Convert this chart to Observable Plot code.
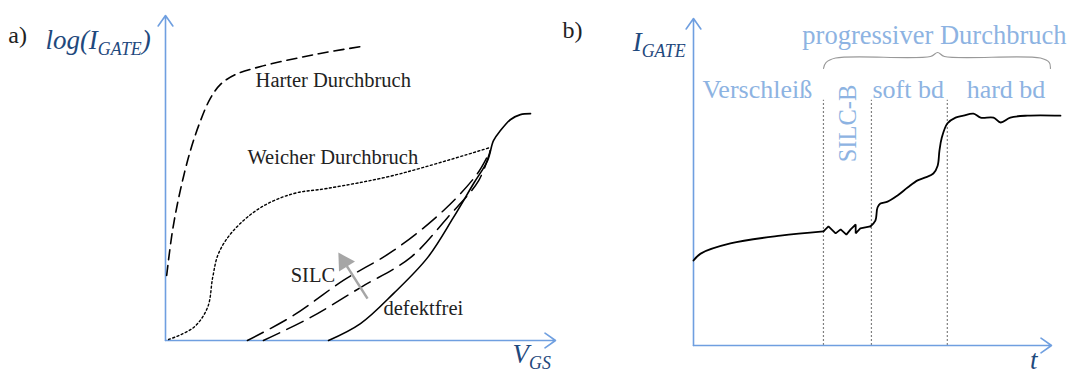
<!DOCTYPE html>
<html><head><meta charset="utf-8">
<script src="https://cdn.jsdelivr.net/npm/d3@7"></script>
<script src="https://cdn.jsdelivr.net/npm/@observablehq/plot@0.6"></script>
<style>
html,body{margin:0;padding:0;background:#fff;}
#wrap{position:relative;width:1073px;height:376px;overflow:hidden;background:#fff;}
#wrap svg{position:absolute;top:0;overflow:visible;}
</style></head><body><div id="wrap"></div>
<script>
// ---------- Panel a) : V_GS (0..100) vs log(I_GATE) (0..100), schematic units ----------
const hardBreakdown = [[0.3,20.0],[1.8,33.8],[3.8,46.2],[6.4,58.5],[9.0,67.7],[11.5,74.5],[14.1,78.8],[17.9,81.8],[24.4,84.3],[34.6,87.1],[42.3,88.9],[50.5,90.5]];
const softBreakdown = [[0.8,0.3],[7.2,4.0],[10.8,10.2],[12.1,19.4],[13.6,26.8],[17.4,33.8],[24.4,40.9],[32.8,45.2],[41.5,46.8],[58.5,50.8],[83.3,59.4]];
const defectFree = [[41.8,0],[50.0,5.2],[58.5,14.5],[67.2,25.5],[73.8,37.8],[79.0,48.3],[82.6,55.4],[84.1,61.5],[85.9,64.6],[88.5,68.0],[91.0,69.5],[93.6,69.8]];
const silc1 = [[21.0,0],[32.8,7.7],[45.6,18.5],[58.5,27.7],[71.3,40.0],[80.0,51.4],[83.3,58.5]];
const silc2 = [[25.1,0],[37.2,7.1],[50.0,16.3],[62.8,25.5],[72.3,37.8],[80.3,49.2],[83.3,58.5]];
const silcShaft = [{x1:51.8,y1:12.9,x2:46.5,y2:22.9}];
const silcHead = [{x:45.8,y:24.2,angle:-32}];
const labelsA = [
  {x:23.1,y:79.9,text:"Harter Durchbruch"},
  {x:21.0,y:56.2,text:"Weicher Durchbruch"},
  {x:32.1,y:19.9,text:"SILC"},
  {x:55.9,y:10.0,text:"defektfrei"}
];
const panelTagA = [{x:-40.3,y:93.8,text:"a)"}];
const axisTitlesA = [{x:-30.8,y:92.3,text:"log(I_{GATE})"},{x:89.0,y:-4.3,text:"V_{GS}"}];

// ---------- Panel b) : t (0..100) vs I_GATE (0..100), schematic units ----------
const wearPhase = [[0,26.0],[2.0,28.1],[10.3,31.2],[24.3,33.6],[36.3,34.9]];
const silcPhase = [[36.3,34.9],[37.7,36.4],[39.7,34.3],[41.1,35.5],[42.7,33.9],[43.9,35.5],[45.3,37.0],[45.3,34.3],[46.6,35.8],[48.0,36.1],[49.4,36.4]];
const breakdownPhase = [[49.4,36.4],[50.8,38.2],[51.4,42.2],[52.2,43.4],[54.2,44.0],[57.0,45.9],[59.8,48.3],[62.6,50.5],[64.8,51.4],[67.0,52.6],[68.2,55.0],[68.7,59.6],[69.3,63.3],[70.9,67.9],[73.2,69.7],[75.4,70.3],[78.2,70.9],[80.2,69.7],[83.8,69.7],[85.8,68.2],[88.5,69.7],[93.3,70.3],[102.5,70.3]];
const phaseBounds = [36.3,49.7,70.9];
const phaseTop = 75;
const brace = [[36.3,84.7],[37.0,86.5],[39.7,87.9],[66.2,88.4],[68.2,89.6],[70.1,88.4],[96.9,87.9],[99.4,86.5],[99.7,84.7]];
const phaseLabels = [
  {x:2.5,y:78.1,text:"Verschleiß"},
  {x:50.0,y:78.1,text:"soft bd"},
  {x:76.3,y:78.1,text:"hard bd"}
];
const rotatedLabel = [{x:43.3,y:67.9,text:"SILC-B"}];
const groupLabel = [{x:30.4,y:94.9,text:"progressiver Durchbruch"}];
const panelTagB = [{x:-36.6,y:96.3,text:"b)"}];
const axisTitlesB = [{x:-17.0,y:92.7,text:"I_{GATE}"},{x:94.0,y:-4.6,text:"t"}];

// ---------- styles ----------
const AXIS = "#6f9fe0", TITLE = "#1f497d", LIGHT = "#8db3e2";
const SERIF = "Liberation Serif";
const axes = [{x1:0,y1:0,x2:0,y2:100},{x1:0,y1:0,x2:100,y2:0}];
const X = d => d[0], Y = d => d[1];

function subscripts(svg){
  d3.select(svg).selectAll("text").each(function(){
    const t = this.textContent;
    if (!t.includes("_{")) return;
    const parts = t.split(/(_\{[^}]*\})/).filter(p => p);
    this.textContent = "";
    let shifted = false;
    for (const p of parts){
      const sub = p.startsWith("_{");
      const ts = d3.select(this).append("tspan").text(sub ? p.slice(2,-1) : p);
      if (sub){ ts.attr("font-size","0.66em").attr("dy","0.35em"); shifted = true; }
      else if (shifted){ ts.attr("dy","-0.23em"); shifted = false; }
    }
  });
  return svg;
}

const commonStyle = {background:"transparent", fontFamily: SERIF, overflow:"visible"};
const txt = (data, o) => Plot.text(data, {x:"x", y:"y", text:"text", fontFamily:SERIF, ...o});

const plotA = Plot.plot({
  width:560, height:376,
  marginLeft:165, marginRight:5, marginTop:15, marginBottom:36,
  x:{domain:[0,100], axis:null}, y:{domain:[0,100], axis:null},
  style: commonStyle,
  marks:[
    Plot.arrow(axes,{x1:"x1",y1:"y1",x2:"x2",y2:"y2",stroke:AXIS,strokeWidth:1.6,headLength:12,headAngle:70,bend:0}),
    Plot.line(hardBreakdown,{x:X,y:Y,curve:"catmull-rom",stroke:"#000",strokeWidth:1.6,strokeDasharray:"10,6"}),
    Plot.line(softBreakdown,{x:X,y:Y,curve:"catmull-rom",stroke:"#000",strokeWidth:1.4,strokeDasharray:"2,2.5"}),
    Plot.line(silc1,{x:X,y:Y,curve:"catmull-rom",stroke:"#000",strokeWidth:1.5,strokeDasharray:"18,8"}),
    Plot.line(silc2,{x:X,y:Y,curve:"catmull-rom",stroke:"#000",strokeWidth:1.5,strokeDasharray:"18,8"}),
    Plot.line(defectFree,{x:X,y:Y,curve:"catmull-rom",stroke:"#000",strokeWidth:1.6}),
    Plot.link(silcShaft,{x1:"x1",y1:"y1",x2:"x2",y2:"y2",stroke:"#a6a6a6",strokeWidth:2.5}),
    Plot.dot(silcHead,{x:"x",y:"y",symbol:"triangle",r:7,rotate:"angle",fill:"#a6a6a6",stroke:"none"}),
    txt(labelsA,{textAnchor:"start",fontSize:20.5,fill:"#222"}),
    txt(panelTagA,{textAnchor:"start",fontSize:24,fill:"#222"}),
    txt(axisTitlesA,{textAnchor:"start",fontSize:27,fontStyle:"italic",fill:TITLE})
  ]
});

const plotB = Plot.plot({
  width:513, height:376,
  marginLeft:133, marginRight:22, marginTop:18, marginBottom:31,
  x:{domain:[0,100], axis:null}, y:{domain:[0,100], axis:null},
  style: commonStyle,
  marks:[
    Plot.ruleX(phaseBounds,{y1:0,y2:phaseTop,stroke:"#808080",strokeWidth:1.2,strokeDasharray:"2,2"}),
    Plot.arrow(axes,{x1:"x1",y1:"y1",x2:"x2",y2:"y2",stroke:AXIS,strokeWidth:1.6,headLength:12,headAngle:70,bend:0}),
    Plot.line(wearPhase,{x:X,y:Y,curve:"catmull-rom",stroke:"#000",strokeWidth:1.8}),
    Plot.line(silcPhase,{x:X,y:Y,curve:"linear",stroke:"#000",strokeWidth:1.8,strokeLinejoin:"miter"}),
    Plot.line(breakdownPhase,{x:X,y:Y,curve:"catmull-rom",stroke:"#000",strokeWidth:1.8}),
    Plot.line(brace,{x:X,y:Y,curve:"catmull-rom",stroke:"#999",strokeWidth:1.1}),
    txt(phaseLabels,{textAnchor:"start",fontSize:26,fill:LIGHT}),
    txt(rotatedLabel,{rotate:-90,fontSize:24.5,fill:LIGHT}),
    txt(groupLabel,{textAnchor:"start",fontSize:26.5,fill:LIGHT}),
    txt(panelTagB,{textAnchor:"start",fontSize:24,fill:"#222"}),
    txt(axisTitlesB,{textAnchor:"start",fontSize:27,fontStyle:"italic",fill:TITLE})
  ]
});

subscripts(plotA); subscripts(plotB);
plotA.style.left = "0px";
plotB.style.left = "560px";
document.getElementById("wrap").append(plotA, plotB);
</script>
</body></html>
